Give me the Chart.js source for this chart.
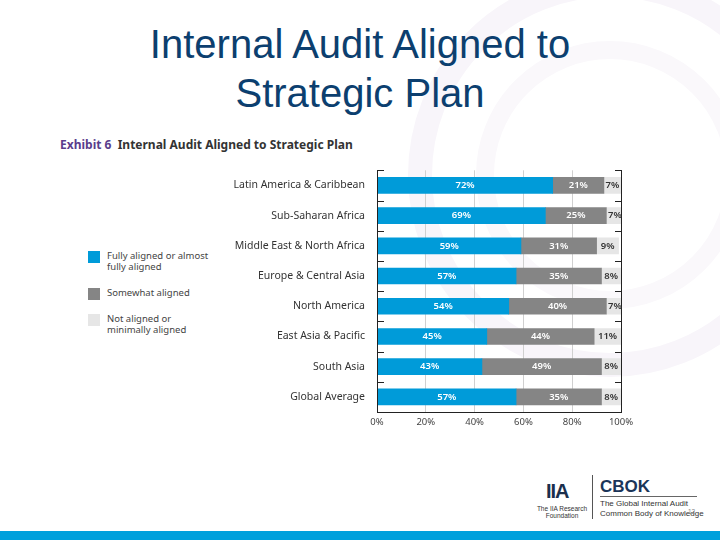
<!DOCTYPE html>
<html>
<head>
<meta charset="utf-8">
<script src="https://cdn.jsdelivr.net/npm/chart.js@4.4.0/dist/chart.umd.min.js"></script>
<style>
  body { margin: 0; width: 720px; height: 540px; position: relative; overflow: hidden; background: #fff; font-family: 'Liberation Sans', Arial, sans-serif; }
  .abs { position: absolute; }
  #title { left: 0; width: 720px; top: 20px; text-align: center; color: #0c3f6f; font-size: 40px; line-height: 49px; }
  #caption { left: 60px; top: 136px; font-family: 'Noto Sans', sans-serif; font-size: 12px; font-weight: bold; color: #333; white-space: nowrap; }
  #caption span { color: #5a3d8c; }
  .leg { left: 88px; font-family: 'Noto Sans', sans-serif; font-size: 9.5px; line-height: 11px; color: #444; }
  .leg i { position: absolute; left: 0; top: 0; width: 12px; height: 12px; }
  .leg div { margin-left: 19px; margin-top: -1px; }
  #chartbox { left: 0; top: 160px; width: 720px; height: 280px; }
  #foot { left: 0; top: 531px; width: 720px; height: 9px; background: #00a0dc; }
</style>
</head>
<body>
<svg class="abs" style="left:0;top:0" width="720" height="540">
  <circle cx="610" cy="175" r="190" fill="none" stroke="#f8f5fa" stroke-width="24"/>
  <circle cx="610" cy="175" r="125" fill="none" stroke="#faf8fb" stroke-width="18"/>
</svg>
<div id="title" class="abs">Internal Audit Aligned to<br>Strategic Plan</div>
<div id="caption" class="abs"><span>Exhibit 6</span>&nbsp; Internal Audit Aligned to Strategic Plan</div>

<div class="abs leg" style="top:251px"><i style="background:#009bd9"></i><div>Fully aligned or almost<br>fully aligned</div></div>
<div class="abs leg" style="top:288px"><i style="background:#858585"></i><div>Somewhat aligned</div></div>
<div class="abs leg" style="top:314px"><i style="background:#e6e6e6"></i><div>Not aligned or<br>minimally aligned</div></div>

<div id="chartbox" class="abs"><canvas id="c"></canvas></div>

<!-- footer logos -->
<div class="abs" style="left:546px;top:480px;width:30px;height:22px;font:bold 20px 'Liberation Sans';color:#1b2f4d;letter-spacing:-1px">IIA</div>
<div class="abs" style="left:534px;top:505px;width:56px;text-align:center;font:6.5px 'Liberation Sans';line-height:7px;color:#333">The IIA Research<br>Foundation</div>
<div class="abs" style="left:592px;top:475px;width:1px;height:44px;background:#555"></div>
<div class="abs" style="left:600px;top:477px;font:bold 17px 'Liberation Sans';color:#1b3559">CBOK</div>
<div class="abs" style="left:600px;top:496px;width:97px;height:1px;background:#666"></div>
<div class="abs" style="left:600px;top:499px;font:8px 'Liberation Sans';line-height:10px;color:#333">The Global Internal Audit<br>Common Body of Knowledge</div>
<div class="abs" style="left:688px;top:508px;font:6.5px 'Liberation Sans';color:#888">12</div>
<div id="foot" class="abs"></div>

<script>
const regions = ['Latin America & Caribbean', 'Sub-Saharan Africa', 'Middle East & North Africa',
  'Europe & Central Asia', 'North America', 'East Asia & Pacific', 'South Asia', 'Global Average'];
const fullyAligned = [72, 69, 59, 57, 54, 45, 43, 57];
const somewhatAligned = [21, 25, 31, 35, 40, 44, 49, 35];
const notAligned = [7, 7, 9, 8, 7, 11, 8, 8];
const xTicks = [0, 20, 40, 60, 80, 100];

// borders, inward ticks and value labels
const framePlugin = {
  id: 'frame',
  afterDatasetsDraw(chart) {
    const { ctx, chartArea: a, scales: { y } } = chart;
    ctx.save();
    ctx.strokeStyle = '#222';
    ctx.lineWidth = 1;
    ctx.beginPath();
    ctx.moveTo(a.left + 0.5, a.top); ctx.lineTo(a.left + 0.5, a.bottom);
    ctx.moveTo(a.right + 0.5, a.top); ctx.lineTo(a.right + 0.5, a.bottom);
    ctx.moveTo(a.left, a.bottom + 0.5); ctx.lineTo(a.right + 1, a.bottom + 0.5);
    const ys = regions.map((_, i) => y.getPixelForValue(i));
    const step = ys[1] - ys[0];
    const bounds = ys.map(v => v - step / 2);
    bounds.forEach(b => {
      const yy = Math.round(b) + 0.5;
      ctx.moveTo(a.left, yy); ctx.lineTo(a.left + 7, yy);
      ctx.moveTo(a.right + 1, yy); ctx.lineTo(a.right - 6, yy);
    });
    ctx.stroke();

    ctx.font = '600 9.5px "Noto Sans"';
    ctx.textAlign = 'center';
    ctx.textBaseline = 'middle';
    chart.data.datasets.forEach((ds, di) => {
      const meta = chart.getDatasetMeta(di);
      ctx.fillStyle = di === 2 ? '#333' : '#fff';
      meta.data.forEach((el, i) => {
        ctx.fillText(ds.data[i] + '%', (el.x + el.base) / 2, el.y);
      });
    });
    ctx.restore();
  }
};

new Chart(document.getElementById('c'), {
  type: 'bar',
  data: {
    labels: regions,
    datasets: [
      { label: 'Fully aligned or almost fully aligned', data: fullyAligned, backgroundColor: '#009bd9' },
      { label: 'Somewhat aligned', data: somewhatAligned, backgroundColor: '#858585' },
      { label: 'Not aligned or minimally aligned', data: notAligned, backgroundColor: '#e6e6e6' }
    ]
  },
  options: {
    indexAxis: 'y',
    responsive: true,
    maintainAspectRatio: false,
    animation: false,
    layout: { padding: { top: 7, right: 99, left: 0, bottom: 0 } },
    plugins: { legend: { display: false }, tooltip: { enabled: false } },
    datasets: { bar: { barThickness: 16 } },
    scales: {
      x: {
        stacked: true, min: 0, max: 100,
        afterBuildTicks: s => { s.ticks = xTicks.map(v => ({ value: v })); },
        afterFit: s => { s.height = 28; },
        border: { display: false },
        grid: {
          drawTicks: false,
          color: c => (c.tick.value === 0 || c.tick.value === 100) ? 'rgba(0,0,0,0)' : '#d0d0d0'
        },
        ticks: { padding: 5, color: '#444', font: { family: 'Noto Sans', size: 9.5 }, callback: v => v + '%', maxRotation: 0 }
      },
      y: {
        stacked: true,
        afterFit: s => { s.width = 377; },
        border: { display: false },
        grid: { display: false },
        ticks: { padding: 4, color: '#333', font: { family: 'Noto Sans', size: 10.5 } }
      }
    }
  },
  plugins: [framePlugin]
});
</script>
</body>
</html>
